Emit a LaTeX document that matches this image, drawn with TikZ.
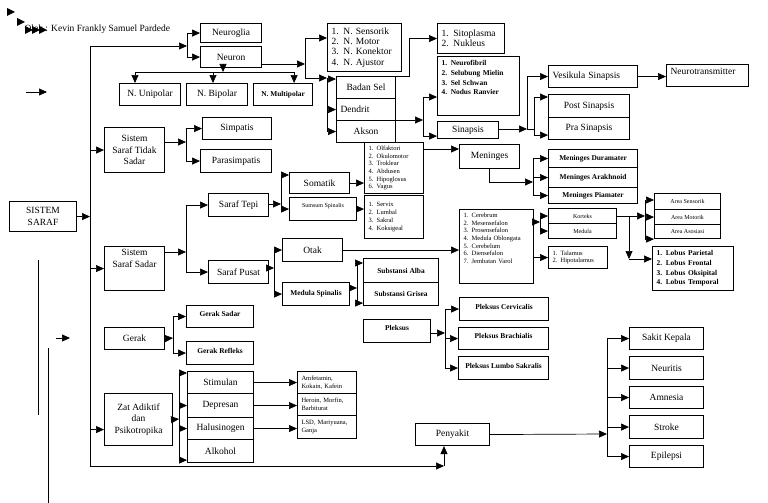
\documentclass[tikz,border=0pt]{standalone}
\usepackage{fontspec}
\setmainfont{Liberation Serif}
\usepackage{tikz}
\usetikzlibrary{calc,arrows.meta}

\newcommand{\fsedang}{\fontsize{9.5}{11.5}\selectfont}
\newcommand{\fdaftar}{\fontsize{9.5}{10.3}\selectfont}
\newcommand{\fkecil}{\fontsize{6.5}{7.7}\selectfont}
\newcommand{\fmungil}{\fontsize{6}{7}\selectfont}
\newcommand{\ftebal}{\fontsize{7.4}{9.7}\selectfont\bfseries}

\tikzset{
  kotak/.style={draw, line width=1.1pt, anchor=north west, inner xsep=4pt, inner ysep=1pt, font=\fsedang, align=center},
  panah/.style={line width=0.7pt, -{Triangle[length=8pt,width=7pt]}},
  garis/.style={line width=0.7pt},
}

\begin{document}
\begin{tikzpicture}[x=1pt,y=1pt,yscale=-1,xscale=1]
\useasboundingbox (0,0) rectangle (768,503);

%Judul
\node[anchor=west, font=\fsedang] (penulis) at (21,29) {Oleh : Kevin Frankly Samuel Pardede};
\foreach \x/\y in {7/8, 17/18, 25/26, 32/26, 39/26}
  \fill (\x,\y) -- ++(8,4) -- ++(-8,4) -- cycle;
\draw[panah] (26,92) -- (47,92);
\draw[garis] (38,260) -- (38,415);
\draw[garis] (48,348) -- (48,503);
\draw[panah] (56,338) -- (70,338);

%Kotak utama
\node[kotak, minimum width=67, minimum height=30] (sistemsaraf) at (9,201) {SISTEM\\SARAF};

%Neuron
\node[kotak, minimum width=61, minimum height=19] (neuroglia) at (200,23) {Neuroglia};
\node[kotak, minimum width=61, minimum height=21] (neuron) at (200,46) {Neuron};
\node[kotak, minimum width=61, minimum height=22] (unipolar) at (119,83) {N. Unipolar};
\node[kotak, minimum width=61, minimum height=22] (bipolar) at (186,83) {N. Bipolar};
\node[kotak, minimum width=59, minimum height=22, font=\ftebal] (multipolar) at (253,83) {N. Multipolar};
\node[kotak, minimum height=48, text width=66, align=left, font=\fdaftar] (jenisneuron) at (327,23) {1. N. Sensorik\\2. N. Motor\\3. N. Konektor\\4. N. Ajustor};
\node[kotak, minimum width=59, minimum height=22] (badansel) at (336,76) {Badan Sel};
\node[kotak, minimum height=22, text width=51, align=left] (dendrit) at (336,98) {Dendrit};
\node[kotak, minimum width=59, minimum height=22] (akson) at (336,120) {Akson};
\node[kotak, minimum height=30, text width=59, align=left, font=\fdaftar] (sitoplasma) at (437,23) {1. Sitoplasma\\2. Nukleus};
\node[kotak, minimum height=59, text width=74, align=left, font=\ftebal, text depth=46pt] (neurofibril) at (437,56) {1. Neurofibril\\2. Selubung Mielin\\3. Sel Schwan\\4. Nodus Ranvier};
\node[kotak, minimum width=61, minimum height=17] (sinapsis) at (437,121) {Sinapsis};
\node[kotak, minimum height=22, text width=81, align=left] (vesikula) at (548,65) {Vesikula Sinapsis};
\node[kotak, minimum height=22, text width=74, align=left, text depth=8pt] (neurotransmitter) at (666,64) {Neurotransmitter};
\node[kotak, minimum width=81, minimum height=23] (postsinapsis) at (548,94) {Post Sinapsis};
\node[kotak, minimum width=81, minimum height=22] (prasinapsis) at (548,117) {Pra Sinapsis};
\node[kotak, minimum width=60, minimum height=24] (meninges) at (459,144) {Meninges};
\node[kotak, minimum width=89, minimum height=18, font=\ftebal] (duramater) at (548,149) {Meninges Duramater};
\node[kotak, minimum width=89, minimum height=20, font=\ftebal] (arakhnoid) at (548,167) {Meninges Arakhnoid};
\node[kotak, minimum width=89, minimum height=16, font=\ftebal] (piamater) at (548,187) {Meninges Piamater};

%Sistem saraf tidak sadar
\node[kotak, minimum width=60, minimum height=45] (tidaksadar) at (104,127) {Sistem\\Saraf Tidak\\Sadar};
\node[kotak, minimum width=69, minimum height=22] (simpatis) at (202,117) {Simpatis};
\node[kotak, minimum width=71, minimum height=23] (parasimpatis) at (200,149) {Parasimpatis};

%Sistem saraf sadar
\node[kotak, minimum width=60, minimum height=44, text depth=20pt] (sadar) at (104,246) {Sistem\\Saraf Sadar};
\node[kotak, minimum width=60, minimum height=23] (saraftepi) at (208,193) {Saraf Tepi};
\node[kotak, minimum width=60, minimum height=23] (sarafpusat) at (208,260) {Saraf Pusat};
\node[kotak, minimum width=60, minimum height=21] (somatik) at (289,172) {Somatik};
\node[kotak, minimum width=67, minimum height=23, font=\fmungil, text depth=8pt] (sumsum) at (289,197) {Sumsum Spinalis};
\node[kotak, minimum height=51, text width=51, align=left, font=\fkecil] (kranial) at (364,142) {1. Olfaktori\\2. Okulomotor\\3. Troklear\\4. Abdusen\\5. Hipoglosus\\6. Vagus};
\node[kotak, minimum height=43, text width=51, align=left, font=\fkecil] (spinal) at (364,195) {1. Servix\\2. Lumbal\\3. Sakral\\4. Koksigeal};
\node[kotak, minimum width=60, minimum height=23] (otak) at (282,238) {Otak};
\node[kotak, minimum width=67, minimum height=23, font=\ftebal] (medspinalis) at (282,282) {Medula Spinalis};
\node[kotak, minimum width=75, minimum height=24, font=\ftebal] (alba) at (363,258) {Substansi Alba};
\node[kotak, minimum width=75, minimum height=23, font=\ftebal] (grisea) at (363,282) {Substansi Grisea};
\node[kotak, minimum height=74, text width=66, align=left, font=\fkecil, text depth=63pt] (cerebrum) at (459,209) {1. Cerebrum\\2. Mesensefalon\\3. Prosensefalon\\4. Medula Oblongata\\5. Cerebelum\\6. Diensefalon\\7. Jembatan Varol};
\node[kotak, minimum width=68, minimum height=15, font=\fmungil] (korteks) at (548,208) {Korteks};
\node[kotak, minimum width=68, minimum height=15, font=\fmungil] (medula) at (548,223) {Medula};
\node[kotak, minimum height=22, text width=51, align=left, font=\fkecil] (talamus) at (548,246) {1. Talamus\\2. Hipotalamus};
\node[kotak, minimum width=66, minimum height=16, font=\fmungil] (areasensorik) at (654,193) {Area Sensorik};
\node[kotak, minimum width=66, minimum height=15, font=\fmungil] (areamotorik) at (654,209) {Area Motorik};
\node[kotak, minimum width=66, minimum height=14, font=\fmungil] (areaasosiasi) at (654,224) {Area Asosiasi};
\node[kotak, minimum height=44, text width=73, align=left, font=\ftebal] (lobus) at (652,246) {1. Lobus Parietal\\2. Lobus Frontal\\3. Lobus Oksipital\\4. Lobus Temporal};

%Pleksus
\node[kotak, minimum width=67, minimum height=23, font=\ftebal, text depth=6pt] (pleksus) at (363,319) {Pleksus};
\node[kotak, minimum width=89, minimum height=23, font=\ftebal, text depth=5pt] (cervicalis) at (459,297) {Pleksus Cervicalis};
\node[kotak, minimum width=90, minimum height=22, font=\ftebal, text depth=5pt] (brachialis) at (458,327) {Pleksus Brachialis};
\node[kotak, minimum width=90, minimum height=23, font=\ftebal, text depth=5pt] (lumbo) at (458,356) {Pleksus Lumbo Sakralis};

%Gerak
\node[kotak, minimum width=60, minimum height=22] (gerak) at (104,327) {Gerak};
\node[kotak, minimum width=67, minimum height=22, font=\ftebal, text depth=5pt] (geraksadar) at (186,305) {Gerak Sadar};
\node[kotak, minimum width=67, minimum height=23, font=\ftebal, text depth=5pt] (gerakrefleks) at (186,341) {Gerak Refleks};

%Zat adiktif
\node[kotak, minimum width=68, minimum height=52] (zat) at (104,393) {Zat Adiktif\\dan\\Psikotropika};
\node[kotak, minimum width=66, minimum height=22] (stimulan) at (187,371) {Stimulan};
\node[kotak, minimum width=66, minimum height=24] (depresan) at (187,393) {Depresan};
\node[kotak, minimum width=66, minimum height=22] (halusinogen) at (187,417) {Halusinogen};
\node[kotak, minimum width=66, minimum height=23] (alkohol) at (187,439) {Alkohol};
\node[kotak, minimum height=22, text width=51, align=left, font=\fkecil] (amfetamin) at (297,371) {Amfetamin,\\Kokain, Kafein};
\node[kotak, minimum height=22, text width=51, align=left, font=\fkecil] (heroin) at (297,393) {Heroin, Morfin,\\Barbiturat};
\node[kotak, minimum height=23, text width=51, align=left, font=\fkecil] (lsd) at (297,415) {LSD, Mariyuana,\\Ganja};

%Penyakit
\node[kotak, minimum width=74, minimum height=22] (penyakit) at (415,423) {Penyakit};
\node[kotak, minimum width=74, minimum height=22] (sakit) at (629,327) {Sakit Kepala};
\node[kotak, minimum width=74, minimum height=23] (neuritis) at (629,356) {Neuritis};
\node[kotak, minimum width=74, minimum height=22] (amnesia) at (629,386) {Amnesia};
\node[kotak, minimum width=74, minimum height=23] (stroke) at (629,415) {Stroke};
\node[kotak, minimum width=74, minimum height=22] (epilepsi) at (629,445) {Epilepsi};

%Titik cabang
\coordinate (atas) at (90,46);
\coordinate (sudut) at (444,466);
\coordinate (hubA) at (187,46);
\coordinate (hubB) at (223,72);
\coordinate (hubC) at (305,64);
\coordinate (hubD) at (327,78);
\coordinate (hubE) at (423,120);
\coordinate (hubF) at (527,129);
\coordinate (hubG) at (534,129);
\coordinate (hubH) at (533,182);
\coordinate (hubI) at (186,142);
\coordinate (hubJ) at (186,252);
\coordinate (hubK) at (281,204);
\coordinate (hubL) at (274,268);
\coordinate (hubM) at (357,288);
\coordinate (hubN) at (540,222);
\coordinate (hubO) at (645,216);
\coordinate (hubP) at (629,216);
\coordinate (hubQ) at (629,259);
\coordinate (hubR) at (445,333);
\coordinate (hubS) at (173,338);
\coordinate (hubT) at (179,419);
\coordinate (hubU) at (607,434);
\coordinate (kezat) at ($(zat.west)+(0,10)$);
\coordinate (m1) at ($(kranial.north east)+(0,7)$);

%Garis utama
\draw[panah] (sistemsaraf.east) -- (sistemsaraf.east -| atas);
\draw[panah] (atas) |- (sudut);
\draw[panah] (sudut) -- (sudut |- penyakit.south);
\draw[panah] (atas) -- (hubA);
\draw[panah] (atas |- tidaksadar) -- (tidaksadar);
\draw[panah] (atas |- sadar) -- (sadar);
\draw[panah] (atas |- kezat) -- (kezat);

%Neuron
\draw[panah] (hubA) |- (neuroglia);
\draw[panah] (hubA) |- (neuron);
\draw[panah] (neuron.south -| hubB) -- (hubB);
\draw[panah] (hubB) -| ($(unipolar.north west)+(16,0)$);
\draw[panah] (hubB) -| ($(bipolar.north west)+(27,0)$);
\draw[panah] (hubB) -| ($(multipolar.north east)+(-19,0)$);
\draw[panah] (neuron.east |- hubC) -- (hubC);
\draw[panah] (hubC) |- ($(jenisneuron.north west)+(0,15)$);
\draw[panah] (hubC) |- (hubD);
\draw[panah] (hubD) |- ($(badansel.north west)+(0,3)$);
\draw[panah] (hubD) |- (dendrit);
\draw[panah] (hubD) |- (akson);
\draw[panah] (badansel.north east) -- ++(13,0) |- (sitoplasma);
\draw[panah] (akson.north east) -- (hubE);
\draw[panah] (hubE) |- ($(neurofibril.north west)+(0,41)$);
\draw[panah] (hubE) |- ($(sinapsis.south west)+(0,-3)$);
\draw[panah] (sinapsis.east |- hubF) -- (hubF);
\draw[panah] (hubF) |- (vesikula);
\draw[garis] (hubF) -- (hubG);
\draw[panah] (hubG) |- ($(postsinapsis.north west)+(0,3)$);
\draw[panah] (hubG) |- ($(prasinapsis.south west)+(0,-5)$);
\draw[panah] (vesikula.east) -- (vesikula.east -| neurotransmitter.west);
\draw[panah] (m1) -- (m1 -| meninges.west);
\draw[panah] (meninges.south) |- (hubH);
\foreach \t in {duramater, arakhnoid, piamater}
  \draw[panah] (hubH) |- (\t);

%Saraf tidak sadar dan sadar
\draw[panah] (tidaksadar.east |- hubI) -- (hubI);
\draw[panah] (hubI) |- (simpatis);
\draw[panah] (hubI) |- (parasimpatis);
\draw[panah] (sadar.east |- hubJ) -- (hubJ);
\draw[panah] (hubJ) |- (saraftepi);
\draw[panah] (hubJ) |- (sarafpusat);
\draw[panah] (saraftepi.east |- hubK) -- (hubK);
\draw[panah] (hubK) |- ($(somatik.north west)+(0,3)$);
\draw[panah] (hubK) |- (sumsum);
\draw[panah] (somatik.east) -- (somatik.east -| kranial.west);
\draw[panah] (sumsum.east) -- (sumsum.east -| spinal.west);
\draw[panah] (sarafpusat.east |- hubL) -- (hubL);
\draw[panah] (hubL) |- (otak);
\draw[panah] (hubL) |- (medspinalis);
\draw[panah] (otak.east) -- (otak.east -| cerebrum.west);
\draw[panah] (medspinalis.east |- hubM) -- (hubM);
\draw[panah] (hubM) |- ($(alba.north west)+(0,5)$);
\draw[panah] (hubM) |- ($(grisea.south west)+(0,-3)$);
\draw[panah] (cerebrum.east |- hubN) -- (hubN);
\draw[panah] (hubN) |- (korteks);
\draw[panah] (hubN) |- (medula);
\draw[panah] (cerebrum.east |- talamus) -- (talamus);
\draw[panah] (korteks.east |- hubO) -- (hubO);
\draw[panah] (hubO) |- ($(areasensorik.north west)+(0,7)$);
\draw[panah] (hubO) |- (areamotorik);
\draw[panah] (hubO) |- (areaasosiasi.south west);
\draw[panah] (hubP) -- (hubQ);
\draw[panah] (hubQ) -- (hubQ -| lobus.west);

%Pleksus, gerak, zat adiktif
\draw[panah] (pleksus.east |- hubR) -- (hubR);
\foreach \t in {cervicalis, brachialis, lumbo}
  \draw[panah] (hubR) |- (\t);
\draw[panah] (gerak.east) -- (hubS);
\draw[panah] (hubS) |- (geraksadar);
\draw[panah] (hubS) |- (gerakrefleks);
\draw[panah] (zat.east) -- (hubT);
\draw[panah] (hubT) |- ($(stimulan.north west)+(0,2)$);
\draw[panah] (hubT) |- (depresan);
\draw[panah] (hubT) |- (halusinogen);
\draw[panah] (hubT) |- ($(alkohol.south west)+(0,-3)$);
\draw[panah] (stimulan.east) -- (stimulan.east -| amfetamin.west);
\draw[panah] (depresan.east) -- (depresan.east -| heroin.west);
\draw[panah] (halusinogen.east) -- (halusinogen.east -| lsd.west);

%Penyakit
\draw[panah] (penyakit.east) -- (hubU);
\foreach \t in {sakit, neuritis, amnesia, stroke, epilepsi}
  \draw[panah] (hubU) |- (\t);
\end{tikzpicture}
\end{document}
